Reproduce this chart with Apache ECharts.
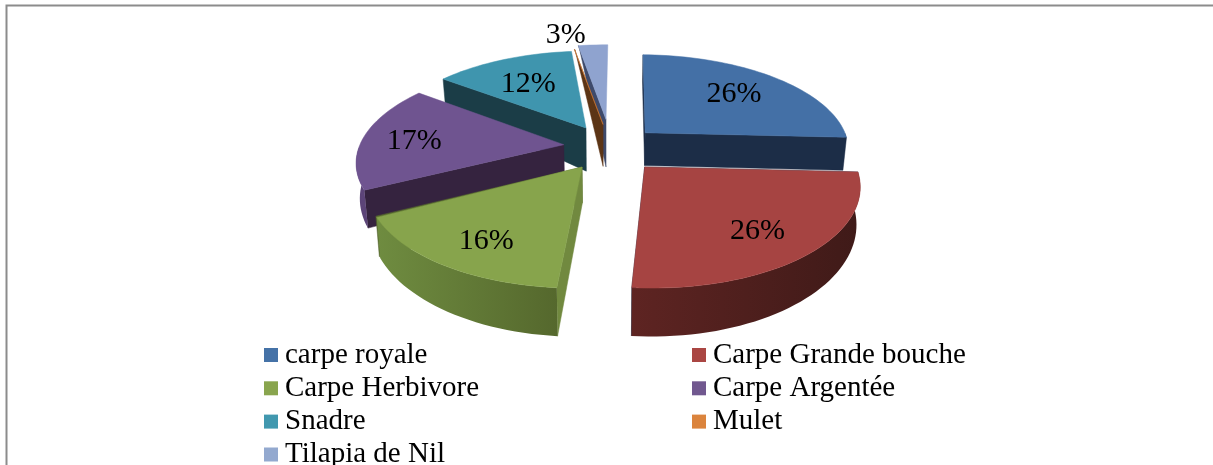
<!DOCTYPE html>
<html>
<head>
<meta charset="utf-8">
<title>Especes</title>
<script src="https://cdn.jsdelivr.net/npm/echarts@6/dist/echarts.min.js"></script>
<style>
  html, body { margin: 0; padding: 0; background: #fff; }
  #main { width: 1213px; height: 465px; }
</style>
</head>
<body>
<div id="main"></div>
<script>
var names = ['carpe royale', 'Carpe Grande bouche', 'Carpe Herbivore', 'Carpe Argentée', 'Snadre', 'Mulet', 'Tilapia de Nil'];
var values = [25.5, 25.5, 16.3, 17.7, 12.0, 0.1, 2.9];
var labels = ['26%', '26%', '16%', '17%', '12%', '', '3%'];
var legendLeft = ['carpe royale', 'Carpe Herbivore', 'Snadre'];
var legendLast = ['Tilapia de Nil'];
var legendRight = ['Carpe Grande bouche', 'Carpe Argentée', 'Mulet'];

// colours: top face, start wall, end wall, rim gradient
var topColor = ['#4470a6', '#a64442', '#87a44c', '#6f5490', '#3f95ae', '#da8138', '#8fa3cf'];
var legendColor = ['#4572a7', '#aa4643', '#89a54e', '#71588f', '#4198af', '#db843d', '#93a9cf'];
var startWall = ['#1c2d47', '#1c2d47', '#71893f', '#35233f', '#1b3d47', '#5c3516', '#3e4a6b'];
var endWall = ['#1c2d47', '#1c2d47', '#56682e', null, null, null, null];
var rimLeft = ['#1c2d47', '#5e2422', '#6f8c40', '#5c4478', '#1b3d47', '#5c3516', '#3e4a6b'];
var rimRight = ['#1c2d47', '#3f1a18', '#55682d', '#5c4478', '#1b3d47', '#5c3516', '#3e4a6b'];

// view of the pie
var START_ANGLE = 1;
var CX = 607, CY = 148, RX = 205, RY = 95;
var K = 0.16, DEPTH = 34, K_DEPTH = 0.25, BOTTOM_SCALE = 0.985;
// explosion of each slice on the pie plane
var explodeX = [0.191, 0.178, -0.118, -0.212, -0.106, -0.02, -0.005];
var explodeY = [-0.164, 0.193, 0.194, -0.035, -0.219, -0.258, -0.315];
var apexExtra = [0, 0, 0, 0, 11, 10, 16];
var rimFactor = [1, 1, 1, 1, 1, 0, 0];
var endTrim = [0, 0, 0, 0, 4, 0, 0];
var labelR = [0.67, 0.74, 0.76, 0.74, 0.63, 0, 1.17];
var labelAngle = [47, 141, 211, 273, 329, 0, 348];
var paintOrder = [6, 5, 4, 3, 0, 2, 1];

var total = values.reduce(function (a, b) { return a + b; }, 0);
var starts = [];
values.reduce(function (acc, v, i) { starts[i] = acc; return acc + v / total * 360; }, START_ANGLE);

function groundX(i, r, deg) { return explodeX[i] + r * Math.sin(deg * Math.PI / 180); }
function groundY(i, r, deg) { return explodeY[i] - r * Math.cos(deg * Math.PI / 180); }

function topPoint(x, y) {
  var s = 1 / (1 - K * y);
  return [CX + RX * x * s, CY + RY * y * s];
}
function bottomPoint(x, y, factor, extra) {
  var p = topPoint(x, y);
  return [CX + (p[0] - CX) * BOTTOM_SCALE, p[1] + DEPTH / (1 - K_DEPTH * y) * factor + extra];
}

function polygon(points, fill) {
  return { type: 'polygon', shape: { points: points }, style: { fill: fill, stroke: typeof fill === 'string' ? fill : null, lineWidth: 0.5 } };
}

function renderSlice(i, val) {
  var a0 = starts[i], a1 = a0 + val / total * 360 + endTrim[i];
  var ax = explodeX[i], ay = explodeY[i];
  var apexTop = topPoint(ax, ay);
  var apexBottom = bottomPoint(ax, ay, 1, apexExtra[i]);
  var children = [];

  // radial walls
  [[a1, endWall[i]], [a0, startWall[i]]].forEach(function (w) {
    if (!w[1]) return;
    var x = groundX(i, 1, w[0]), y = groundY(i, 1, w[0]);
    children.push(polygon([apexTop, topPoint(x, y), bottomPoint(x, y, rimFactor[i], 0), apexBottom], w[1]));
  });

  // rim, only the part turned to the viewer
  var r0 = Math.max(a0, 90), r1 = Math.min(a1, 270);
  if (r1 > r0) {
    var upper = [], lower = [];
    for (var a = r0; a < r1 + 1; a += 2) {
      var d = Math.min(a, r1);
      upper.push(topPoint(groundX(i, 1, d), groundY(i, 1, d)));
      lower.unshift(bottomPoint(groundX(i, 1, d), groundY(i, 1, d), 1, 0));
    }
    children.push(polygon(upper.concat(lower), new echarts.graphic.LinearGradient(0, 0, 1, 0, [
      { offset: 0, color: rimLeft[i] },
      { offset: 1, color: rimRight[i] }
    ])));
  }

  // top face
  var face = [apexTop];
  for (var b = a0; b < a1 + 1; b += 2) {
    var e = Math.min(b, a1);
    face.push(topPoint(groundX(i, 1, e), groundY(i, 1, e)));
  }
  children.push(polygon(face, topColor[i]));

  if (labels[i]) {
    var lp = topPoint(groundX(i, labelR[i], labelAngle[i]), groundY(i, labelR[i], labelAngle[i]));
    children.push({
      type: 'text',
      x: lp[0], y: lp[1],
      style: { text: labels[i], fill: '#000', font: '30px "Liberation Serif"', align: 'center', verticalAlign: 'middle' }
    });
  }
  return { type: 'group', children: children };
}

var series = names.map(function (name, i) {
  return {
    type: 'custom',
    name: name,
    coordinateSystem: 'none',
    z: 2 + paintOrder.indexOf(i),
    silent: true,
    itemStyle: { color: legendColor[i] },
    data: [[values[i]]],
    renderItem: function (params, api) { return renderSlice(i, api.value(0)); }
  };
});

function legendAt(left, top, data) {
  return {
    left: left, top: top,
    orient: 'vertical',
    data: data,
    icon: 'rect',
    itemWidth: 14, itemHeight: 14, itemGap: 2.3,
    selectedMode: false,
    textStyle: { color: '#000', fontFamily: 'Liberation Serif', fontSize: 29, lineHeight: 31, padding: [0, 0, 0, 2] }
  };
}

var chart = echarts.init(document.getElementById('main'));
chart.setOption({
  backgroundColor: '#fff',
  animation: false,
  legend: [legendAt(259, 334.5, legendLeft), legendAt(259, 434, legendLast), legendAt(687, 334.5, legendRight)],
  graphic: [{
    type: 'polyline',
    silent: true,
    shape: { points: [[6.5, 465], [6.5, 5.5], [1213, 5.5]] },
    style: { stroke: '#8c8c8c', lineWidth: 2, fill: null }
  }],
  series: series
});
</script>
</body>
</html>
